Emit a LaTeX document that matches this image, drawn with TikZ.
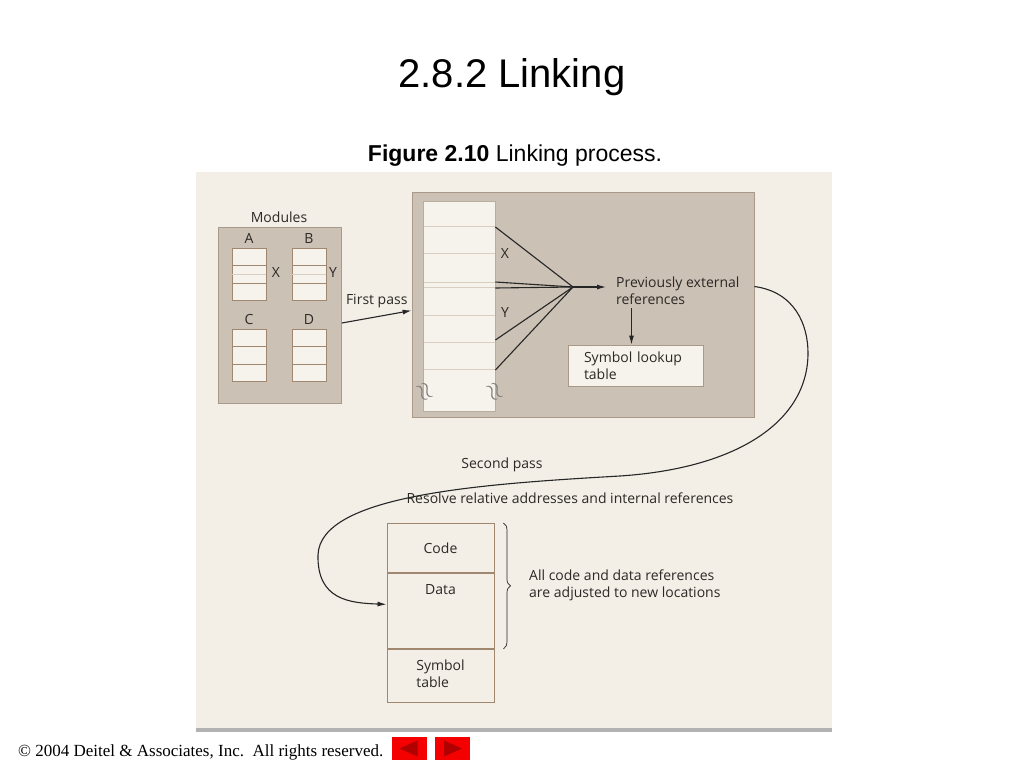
\documentclass[tikz,border=0pt]{standalone}
\usepackage{fontspec}
\setmainfont{Liberation Sans}
\newfontfamily\figfont{Open Sans}
\newfontfamily\footfont{Liberation Serif}
\usetikzlibrary{arrows.meta,decorations.pathreplacing}
\definecolor{panel}{HTML}{F3EEE6}
\definecolor{taupe}{HTML}{CCC1B5}
\definecolor{edge}{HTML}{A89988}
\definecolor{cellfill}{HTML}{F6F2EC}
\definecolor{celledge}{HTML}{A08770}
\definecolor{divline}{HTML}{D9CEC1}
\definecolor{ink}{HTML}{2C2926}
\definecolor{btnred}{HTML}{F50000}
\definecolor{btndark}{HTML}{B00000}
\begin{document}
\begin{tikzpicture}[x=1pt, y=-1pt,
  lbl/.style = {font=\figfont\fontsize{14}{17}\selectfont, text=ink, inner sep=0pt},
  letter/.style = {lbl, anchor=base},
  box/.style = {draw=edge, fill=taupe, line width=0.8pt, inner sep=0pt},
  cell/.style = {draw=celledge, fill=cellfill, line width=0.8pt, minimum width=34, minimum height=17.3, inner sep=0pt, anchor=north},
  stackcell/.style = {draw=celledge, line width=0.9pt, minimum width=107, inner sep=0pt, anchor=north},
  wire/.style = {draw=black!85, line width=1.1pt},
  arr/.style = {wire, -{Latex[length=9pt,width=5pt]}},
  brk/.style = {inner sep=0pt, text=ink!60, rotate=-62, font=\fontsize{24}{24}\selectfont},
  btn/.style = {fill=btnred, minimum width=35, minimum height=23, inner sep=0pt}]

\useasboundingbox (0,0) rectangle (1024,768);

% slide title and caption
\node[font=\fontsize{40}{44}\selectfont] (title) at (512,77) {2.8.2 Linking};
\node[font=\fontsize{23}{26}\selectfont] (caption) at (515,156) {\textbf{Figure 2.10} Linking process.};

% scanned figure background
\fill[panel] (196,172) rectangle (832,728);
\fill[black!30] (196,728) rectangle (832,732);

% modules
\node[box, minimum width=123, minimum height=176] (mods) at (280,315) {};
\node[lbl] (modlbl) at (279,217) {Modules};
\foreach \m/\x/\y in {A/249/248, B/309/248, C/249/329, D/309/329} {
  \node[letter] (lbl\m) at (\x,\y-5) {\m};
  \foreach \i in {0,1,2}
    \node[cell] (\m\i) at (\x,\y+\i*17.3) {};
}
\draw[divline, line width=0.8pt] (A1.west) -- (A1.east);
\draw[divline, line width=0.8pt] (B1.west) -- (B1.east);
\node[letter] (xa) at (276,277) {X};
\node[letter] (yb) at (333,277) {Y};

% first pass
\node[box, minimum width=342, minimum height=225] (big) at (583,304.5) {};
\draw[arr] ([yshift=-8]mods.east) -- node[lbl, above=8pt] {First pass} ([yshift=-6]big.west);

% memory image in the linker
\node[draw=edge!80, fill=cellfill, line width=0.8pt, minimum width=72, minimum height=210, inner sep=0pt] (mem) at (459,306) {};
\foreach \y in {226,253,282,287,315,342,369}
  \draw[divline, line width=0.9pt] (423.5,\y) -- (494.5,\y);
\node[brk] (brk1) at (424,392) {$\approx$};
\node[brk] (brk2) at (494,392) {$\approx$};
\node[letter] (xm) at (505,258) {X};
\node[letter] (ym) at (505,317) {Y};

\coordinate (hub) at (573,287);
\foreach \s in {79,24,18,-34,-64}
  \draw[wire] ([yshift=\s]mem.east) -- (hub);

\node[lbl, align=left, anchor=north west] (prev) at (616,277) {Previously external\\references};
\draw[arr, shorten >=10pt] (hub) -- (hub -| prev.west);

\node[draw=edge, fill=cellfill, line width=0.8pt, lbl, align=left, text width=103, inner xsep=16pt, minimum height=41] (lookup) at (635.5,365.5) {Symbol lookup\\table};
\draw[arr, shorten <=3pt] ([xshift=-4]lookup.north |- prev.south) -- ([xshift=-4]lookup.north);

% second pass
\node[stackcell, minimum height=49] (code) at (440.5,523) {};
\node[lbl] at (code.center) {Code};
\node[stackcell, minimum height=75] (data) at (code.south) {};
\node[lbl, anchor=north] at ([yshift=-11]data.north) {Data};
\node[stackcell, minimum height=53] (symtab) at (data.south) {};
\node[lbl, align=left] at ([yshift=2]symtab.center) {Symbol\\table};

\node[lbl] (second) at (502,465) {Second pass};
\node[lbl] (resolve) at (570,498) {Resolve relative addresses and internal references};

\draw[arr] ([yshift=18]big.east)
  .. controls (795,292) and (808,325) .. (808,353)
  .. controls (808,420) and (740,468) .. (620,476)
  .. controls (480,484) and (320,495) .. (318,555)
  .. controls (317,600) and (350,603) .. ([yshift=6.5]data.west);

\draw[wire, line width=0.7pt, decorate, decoration={brace, amplitude=7pt}] ([xshift=9]code.north east) -- ([xshift=9]data.south east);
\node[lbl, align=left, anchor=west] (adjust) at (529,585) {All code and data references\\are adjusted to new locations};

% footer
\node[anchor=west, inner sep=0pt, font=\footfont\fontsize{17}{20}\selectfont] (foot) at (18,752) {© 2004 Deitel \& Associates, Inc.\ \ All rights reserved.};
\node[btn] (back) at (409.5,748.5) {};
\node[btn] (next) at (452,748.5) {};
\fill[btndark] ([xshift=-10]back.center) -- ++(18,-8) -- ++(0,16) -- cycle;
\fill[btndark] ([xshift=10]next.center) -- ++(-18,-8) -- ++(0,16) -- cycle;

\end{tikzpicture}
\end{document}
